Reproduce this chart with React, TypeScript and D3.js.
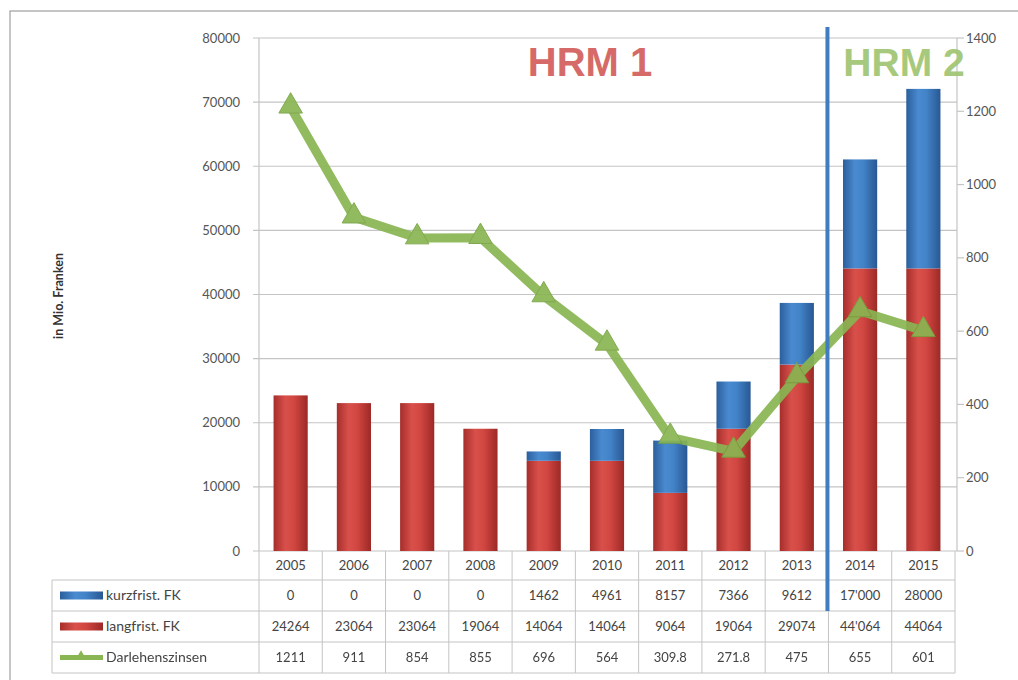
import React from 'react'
import * as d3 from 'd3'

const years = ['2005', '2006', '2007', '2008', '2009', '2010', '2011', '2012', '2013', '2014', '2015']
const kurzfrist = [0, 0, 0, 0, 1462, 4961, 8157, 7366, 9612, 17000, 28000]
const langfrist = [24264, 23064, 23064, 19064, 14064, 14064, 9064, 19064, 29074, 44064, 44064]
const zinsen = [1211, 911, 854, 855, 696, 564, 309.8, 271.8, 475, 655, 601]

// table text as printed in the source
const kurzLabels = ['0', '0', '0', '0', '1462', '4961', '8157', '7366', '9612', "17'000", '28000']
const langLabels = ['24264', '23064', '23064', '19064', '14064', '14064', '9064', '19064', '29074', "44'064", '44064']
const zinsLabels = ['1211', '911', '854', '855', '696', '564', '309.8', '271.8', '475', '655', '601']

const leftTicks = [0, 10000, 20000, 30000, 40000, 50000, 60000, 70000, 80000]
const rightTicks = [0, 200, 400, 600, 800, 1000, 1200, 1400]

const FONT = 'Lato, "Open Sans", sans-serif'

export default function App() {
  const left = 259
  const right = 955
  const top = 38
  const bottom = 551

  const x = d3.scaleBand<string>().domain(years).range([left, right]).paddingInner(0.46).paddingOuter(0.23)
  const yL = d3.scaleLinear().domain([0, 80000]).range([bottom, top])
  const yR = d3.scaleLinear().domain([0, 1400]).range([bottom, top])
  const step = x.step()
  const colX = (i: number) => left + i * step

  const line = d3.line<number>()
    .x((_, i) => x(years[i])! + x.bandwidth() / 2)
    .y(d => yR(d))

  const tri = d3.symbol().type(d3.symbolTriangle).size(240)

  // table rows
  const rowLines = [580, 611, 642, 673]
  const tableLeft = 52
  const rows = [
    {name: 'kurzfrist. FK', labels: kurzLabels, key: 'blue'},
    {name: 'langfrist. FK', labels: langLabels, key: 'red'},
    {name: 'Darlehenszinsen', labels: zinsLabels, key: 'green'},
  ]

  const sepX = colX(9) - 1

  return (
    <svg width={1018} height={680} style={{position: 'absolute', left: 0, top: 0, background: '#fff'}}>
      <defs>
        <linearGradient id="gRed" x1="0" x2="1" y1="0" y2="0">
          <stop offset="0%" stopColor="#a62e2b" />
          <stop offset="35%" stopColor="#d9504b" />
          <stop offset="60%" stopColor="#d14641" />
          <stop offset="100%" stopColor="#9c2926" />
        </linearGradient>
        <linearGradient id="gBlue" x1="0" x2="1" y1="0" y2="0">
          <stop offset="0%" stopColor="#2b5f9c" />
          <stop offset="35%" stopColor="#4a8ad0" />
          <stop offset="60%" stopColor="#4282c7" />
          <stop offset="100%" stopColor="#285893" />
        </linearGradient>
      </defs>

      {/* outer frame */}
      <rect x={10} y={11} width={1020} height={690} fill="none" stroke="#8c8c8c" strokeWidth={1} />

      {/* gridlines and left axis */}
      {leftTicks.map(t => (
        <g key={t}>
          <line x1={left - 6} x2={957} y1={yL(t)} y2={yL(t)} stroke="#c4c4c4" strokeWidth={1.2} />
          <text x={240} y={yL(t)} dy="0.35em" textAnchor="end" fontFamily={FONT} fontSize={13} fill="#555">{t}</text>
        </g>
      ))}
      <line x1={left} x2={left} y1={top} y2={bottom} stroke="#c4c4c4" strokeWidth={1.2} />

      {/* right axis */}
      <line x1={957} x2={957} y1={top} y2={bottom} stroke="#c4c4c4" strokeWidth={1.2} />
      {rightTicks.map(t => (
        <g key={t}>
          <line x1={957} x2={964} y1={yR(t)} y2={yR(t)} stroke="#c4c4c4" strokeWidth={1.2} />
          <text x={966} y={yR(t)} dy="0.35em" textAnchor="start" fontFamily={FONT} fontSize={13} fill="#555">{t}</text>
        </g>
      ))}

      <text transform={`translate(63,${296}) rotate(-90)`} textAnchor="middle" fontFamily={FONT} fontSize={12.5} fontWeight="bold" fill="#333">in Mio. Franken</text>

      {/* stacked bars */}
      {years.map((yr, i) => {
        const bx = x(yr)!
        const w = x.bandwidth()
        const lTop = yL(langfrist[i])
        const kTop = yL(langfrist[i] + kurzfrist[i])
        return (
          <g key={yr}>
            <rect x={bx} y={lTop} width={w} height={bottom - lTop} fill="url(#gRed)" />
            {kurzfrist[i] > 0 && (
              <rect x={bx} y={kTop} width={w} height={lTop - kTop} fill="url(#gBlue)" />
            )}
          </g>
        )
      })}

      {/* interest line */}
      <g opacity={0.92}>
        <path d={line(zinsen)!} fill="none" stroke="#89b552" strokeWidth={9} strokeLinejoin="round" />
        {zinsen.map((v, i) => (
          <path key={i} d={tri()!} transform={`translate(${x(years[i])! + x.bandwidth() / 2},${yR(v) - 1})`} fill="#89b552" stroke="#76a241" strokeWidth={1} />
        ))}
      </g>

      {/* HRM labels */}
      <text x={590} y={76} textAnchor="middle" fontFamily="'Liberation Sans', Arial, sans-serif" fontWeight="bold" fontSize={40} fill="#d25a58" opacity={0.9}>HRM 1</text>
      <text x={904} y={76} textAnchor="middle" fontFamily="'Liberation Sans', Arial, sans-serif" fontWeight="bold" fontSize={39} fill="#9dc46f" opacity={0.9}>HRM 2</text>

      {/* data table */}
      <g fontFamily={FONT} fontSize={13} fill="#444">
        {/* year row */}
        {years.map((yr, i) => (
          <text key={yr} x={colX(i) + step / 2} y={(bottom + rowLines[0]) / 2} dy="0.35em" textAnchor="middle">{yr}</text>
        ))}
        {d3.range(years.length + 1).map(i => (
          <line key={'v' + i} x1={colX(i)} x2={colX(i)} y1={bottom} y2={rowLines[3]} stroke="#c4c4c4" />
        ))}
        <line x1={tableLeft} x2={tableLeft} y1={rowLines[0]} y2={rowLines[3]} stroke="#c4c4c4" />
        {rowLines.map(yy => (
          <line key={'h' + yy} x1={tableLeft} x2={colX(years.length)} y1={yy} y2={yy} stroke="#c4c4c4" />
        ))}
        {rows.map((r, ri) => {
          const cy = (rowLines[ri] + rowLines[ri + 1]) / 2
          return (
            <g key={r.name}>
              {r.key === 'blue' && <rect x={60} y={cy - 4} width={43} height={8} fill="url(#gBlue)" />}
              {r.key === 'red' && <rect x={60} y={cy - 4} width={43} height={8} fill="url(#gRed)" />}
              {r.key === 'green' && (
                <g>
                  <line x1={60} x2={103} y1={cy} y2={cy} stroke="#89b552" strokeWidth={5} />
                  <path d={d3.symbol().type(d3.symbolTriangle).size(50)()!} transform={`translate(81,${cy - 1})`} fill="#89b552" />
                </g>
              )}
              <text x={106} y={cy} dy="0.35em" fontSize={14}>{r.name}</text>
              {r.labels.map((lab, i) => (
                <text key={i} x={colX(i) + step / 2} y={cy} dy="0.35em" textAnchor="middle">{lab}</text>
              ))}
            </g>
          )
        })}
      </g>

      {/* HRM 1 / HRM 2 separator */}
      <line x1={sepX} x2={sepX} y1={27} y2={611} stroke="#3f7cc0" strokeWidth={4} />
    </svg>
  )
}
